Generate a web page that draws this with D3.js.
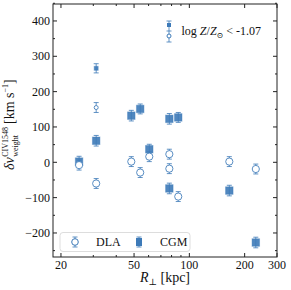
<!DOCTYPE html>
<html>
<head>
<meta charset="utf-8">
<script src="https://cdn.jsdelivr.net/npm/d3@7"></script>
<style>
  body { margin: 0; background: #fff; }
  text { font-family: "Liberation Serif", "DejaVu Serif", serif; fill: #111; }
</style>
</head>
<body>
<svg id="chart"></svg>
<script>
// CGM absorbers (filled squares)
const cgmR   = [25.1, 31.1, 48.3, 54.0, 60.5, 77.8, 77.8, 87.0, 165, 230];
const cgmDv  = [2, 61, 132, 151, 37, 123, -74, 127, -80, -227];
const cgmErr = [15, 15, 15, 14, 14, 15, 15, 14, 15, 15];

// DLA absorbers (open circles)
const dlaR   = [25.1, 31.1, 48.3, 54.0, 60.5, 77.8, 77.8, 87.0, 165, 230];
const dlaDv  = [-8, -60, 2, -29, 16, 23, -18, -97, 2, -19];
const dlaErr = [14, 14, 14, 14, 14, 14, 14, 14, 14, 14];

// low-metallicity pair (small markers)
const lowR = [31.1];
const lowCgm = [266], lowCgmErr = [13];
const lowDla = [155], lowDlaErr = [14];

const xTicks = [20, 50, 100, 200, 300];
const xMinor = [30, 40, 60, 70, 80, 90];
const yTicks = [-200, -100, 0, 100, 200, 300, 400];

const width = 291, height = 290;
const margin = { top: 4, right: 14, bottom: 33, left: 53 };
const innerWidth = width - margin.left - margin.right;
const innerHeight = height - margin.top - margin.bottom;
const color = "#3d7ab8";

const svg = d3.select("#chart").attr("width", width).attr("height", height);
const g = svg.append("g").attr("transform", `translate(${margin.left},${margin.top})`);

const x = d3.scaleLog().domain([18.1, 300]).range([0, innerWidth]);
const y = d3.scaleLinear().domain([-268, 448]).range([innerHeight, 0]);

// frame
g.append("rect").attr("width", innerWidth).attr("height", innerHeight)
  .attr("fill", "none").attr("stroke", "#222").attr("stroke-width", 1);

// ticks on all four sides, pointing inwards
const yMinor = d3.range(-250, 451, 100);
const addTicks = (vals, len, labels) => {
  vals.forEach(v => {
    const px = x(v);
    g.append("line").attr("x1", px).attr("x2", px).attr("y1", innerHeight).attr("y2", innerHeight - len).attr("stroke", "#222");
    g.append("line").attr("x1", px).attr("x2", px).attr("y1", 0).attr("y2", len).attr("stroke", "#222");
    if (labels) g.append("text").attr("x", px).attr("y", innerHeight + 12).attr("text-anchor", "middle")
      .attr("font-size", 12).text(v);
  });
};
addTicks(xTicks, 4, true);
addTicks(xMinor, 2, false);
const addYTicks = (vals, len, labels) => {
  vals.forEach(v => {
    const py = y(v);
    g.append("line").attr("x1", 0).attr("x2", len).attr("y1", py).attr("y2", py).attr("stroke", "#222");
    g.append("line").attr("x1", innerWidth).attr("x2", innerWidth - len).attr("y1", py).attr("y2", py).attr("stroke", "#222");
    if (labels) g.append("text").attr("x", -3).attr("y", py).attr("dy", "0.35em").attr("text-anchor", "end")
      .attr("font-size", 12).text(v < 0 ? "\u2212" + Math.abs(v) : v);
  });
};
addYTicks(yTicks, 4, true);
addYTicks(yMinor, 2, false);

// error bars with caps
function errorBars(rs, vs, es, cap) {
  rs.forEach((r, i) => {
    const px = x(r), y1 = y(vs[i] - es[i]), y2 = y(vs[i] + es[i]);
    g.append("line").attr("x1", px).attr("x2", px).attr("y1", y1).attr("y2", y2)
      .attr("stroke", color).attr("stroke-width", 1).attr("opacity", 0.8);
    [y1, y2].forEach(yy => g.append("line").attr("x1", px - cap).attr("x2", px + cap)
      .attr("y1", yy).attr("y2", yy).attr("stroke", color).attr("opacity", 0.8));
  });
}
function squares(rs, vs, s) {
  rs.forEach((r, i) => g.append("rect").attr("x", x(r) - s / 2).attr("y", y(vs[i]) - s / 2)
    .attr("width", s).attr("height", s).attr("fill", color).attr("stroke", color)
    .attr("stroke-opacity", 0.4).attr("fill-opacity", 0.9));
}
function circles(rs, vs, rad) {
  rs.forEach((r, i) => g.append("circle").attr("cx", x(r)).attr("cy", y(vs[i])).attr("r", rad)
    .attr("fill", "#fff").attr("stroke", color).attr("stroke-width", 1).attr("stroke-opacity", 0.85));
}

errorBars(dlaR, dlaDv, dlaErr, 2.5);
errorBars(cgmR, cgmDv, cgmErr, 2.5);
errorBars(lowR, lowDla, lowDlaErr, 2.5);
errorBars(lowR, lowCgm, lowCgmErr, 2.5);
squares(cgmR, cgmDv, 7.5);
circles(dlaR, dlaDv, 3.6);
squares(lowR, lowCgm, 4);
circles(lowR, lowDla, 2);

// metallicity key (top right)
const kx = 116;
g.append("line").attr("x1", kx).attr("x2", kx).attr("y1", 17).attr("y2", 38).attr("stroke", color).attr("opacity", 0.8);
[17, 27, 38].forEach(yy => g.append("line").attr("x1", kx - 2.5).attr("x2", kx + 2.5).attr("y1", yy).attr("y2", yy).attr("stroke", color).attr("opacity", 0.8));
g.append("rect").attr("x", kx - 2).attr("y", 19).attr("width", 4).attr("height", 4).attr("fill", color);
g.append("circle").attr("cx", kx).attr("cy", 32).attr("r", 2).attr("fill", "#fff").attr("stroke", color);
const kt = g.append("text").attr("x", kx + 12.5).attr("y", 31).attr("font-size", 12);
kt.append("tspan").text("log ");
kt.append("tspan").attr("font-style", "italic").text("Z");
kt.append("tspan").text("/");
kt.append("tspan").attr("font-style", "italic").text("Z");
kt.append("tspan").attr("font-size", 8).attr("dy", 3).text("\u2299");
kt.append("tspan").attr("dy", -3).text(" < -1.07");

// legend
const lg = g.append("g").attr("transform", `translate(7, ${innerHeight - 24.5})`);
lg.append("rect").attr("width", 130).attr("height", 19).attr("rx", 3)
  .attr("fill", "#fff").attr("fill-opacity", 0.8).attr("stroke", "#ddd");
const lgItem = (cx, kind, label) => {
  const cy = 9.5;
  lg.append("line").attr("x1", cx).attr("x2", cx).attr("y1", cy - 5).attr("y2", cy + 5).attr("stroke", color).attr("opacity", 0.8);
  [cy - 5, cy + 5].forEach(yy => lg.append("line").attr("x1", cx - 2.5).attr("x2", cx + 2.5).attr("y1", yy).attr("y2", yy).attr("stroke", color).attr("opacity", 0.8));
  if (kind === "sq") lg.append("rect").attr("x", cx - 3).attr("y", cy - 4).attr("width", 6).attr("height", 8).attr("fill", color);
  else lg.append("circle").attr("cx", cx).attr("cy", cy).attr("r", 3.3).attr("fill", "#fff").attr("stroke", color);
  lg.append("text").attr("x", cx + 21).attr("y", cy).attr("dy", "0.35em").attr("font-size", 12).text(label);
};
lgItem(15, "circ", "DLA");
lgItem(79, "sq", "CGM");

// axis labels
const xl = svg.append("text").attr("x", margin.left + innerWidth / 2).attr("y", 282)
  .attr("text-anchor", "middle").attr("font-size", 14);
xl.append("tspan").attr("font-style", "italic").text("R");
xl.append("tspan").attr("font-size", 9).attr("dy", 3).text("\u22a5");
xl.append("tspan").attr("dy", -3).text(" [kpc]");

// y label: pieces laid out one after another along the rotated baseline
const yl = svg.append("g").attr("transform", "translate(14, 170) rotate(-90)");
let cx = 0;
const piece = (txt, size, dy, italic, advance = true) => {
  const t = yl.append("text").attr("x", cx).attr("y", dy).attr("font-size", size)
    .attr("font-style", italic ? "italic" : "normal").text(txt);
  const w = t.node().getComputedTextLength();
  if (advance) cx += w;
  return w;
};
piece("\u03b4", 14, 0, true);
piece("v", 14, 0, true);
cx += 0.5;
const sx = cx;
const w1 = piece("CIV1548", 8, -6, false, false);
const w2 = piece("weight", 8, 4, false, false);
cx = sx + Math.max(w1, w2) + 3;
piece("[km s", 14, 0, false);
piece("\u22121", 8, -6, false);
piece("]", 14, 0, false);
</script>
</body>
</html>
